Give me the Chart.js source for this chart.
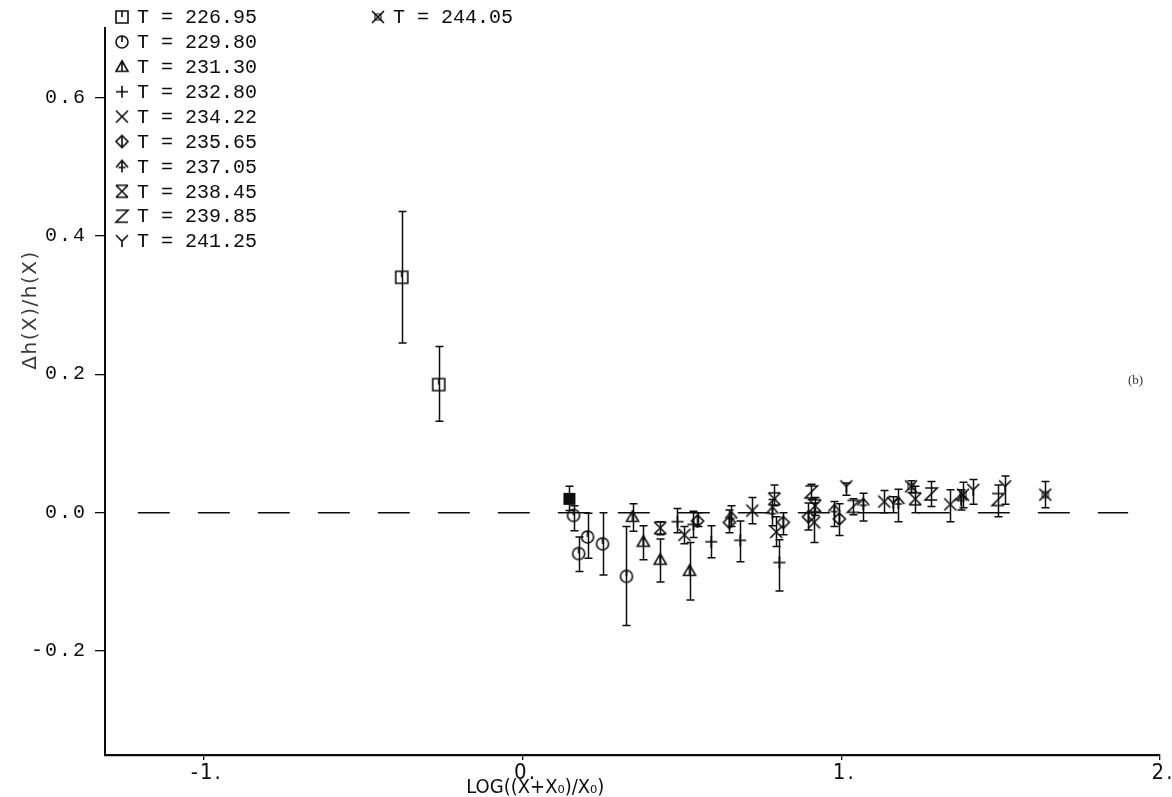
<!DOCTYPE html>
<html>
<head>
<meta charset="utf-8">
<script src="https://cdn.jsdelivr.net/npm/chart.js@4.4.1/dist/chart.umd.min.js"></script>
<style>
  html, body { margin: 0; padding: 0; background: #fff; }
  #wrap { width: 1172px; height: 797px; }
</style>
</head>
<body>
<div id="wrap"><canvas id="c" width="1172" height="797"></canvas></div>
<script>
// Temperatures of the runs and the marker drawn for each
const temperatures = ['226.95', '229.80', '231.30', '232.80', '234.22', '235.65', '237.05', '238.45', '239.85', '241.25', '244.05'];
const markerKinds = ['squareTick', 'circleTick', 'triangleTick', 'plus', 'cross', 'diamondTick', 'arrow', 'crossBars', 'zed', 'wye', 'crossBox'];

// LOG((X+X0)/X0) per run
const xValues = [
  [-0.379, -0.263, 0.147],
  [0.160, 0.176, 0.204, 0.251, 0.326],
  [0.345, 0.379, 0.432, 0.524],
  [0.486, 0.536, 0.592, 0.683, 0.806],
  [0.508, 0.721, 0.796, 0.915, 1.135, 1.342],
  [0.549, 0.649, 0.818, 0.897, 0.994],
  [0.655, 0.784, 0.978, 1.069, 1.179, 1.376],
  [0.432, 0.790, 0.918, 1.232],
  [0.906, 1.038, 1.282, 1.492],
  [1.016, 1.163, 1.414, 1.514],
  [1.219, 1.382, 1.640]
];
// Δh(X)/h(X) per run
const yValues = [
  [0.340, 0.185, 0.020],
  [-0.004, -0.059, -0.035, -0.045, -0.092],
  [-0.006, -0.042, -0.068, -0.084],
  [-0.013, -0.017, -0.042, -0.040, -0.072],
  [-0.032, 0.003, -0.028, -0.014, 0.016, 0.012],
  [-0.012, -0.014, -0.014, -0.006, -0.009],
  [-0.007, 0.000, 0.003, 0.012, 0.014, 0.019],
  [-0.022, 0.020, 0.010, 0.020],
  [0.030, 0.009, 0.027, 0.019],
  [0.038, 0.014, 0.033, 0.038],
  [0.038, 0.026, 0.026]
];
// Lower and upper ends of the error bars
const yLow = [
  [0.245, 0.132, 0.003],
  [-0.026, -0.085, -0.066, -0.090, -0.163],
  [-0.027, -0.068, -0.100, -0.126],
  [-0.029, -0.036, -0.065, -0.071, -0.113],
  [-0.045, -0.016, -0.049, -0.043, 0.000, -0.013],
  [-0.020, -0.029, -0.032, -0.025, -0.033],
  [-0.020, -0.019, -0.020, -0.012, -0.013, 0.004],
  [-0.032, 0.010, -0.004, 0.000],
  [0.019, -0.003, 0.009, -0.006],
  [0.025, 0.000, 0.012, 0.012],
  [0.029, 0.007, 0.007]
];
const yHigh = [
  [0.435, 0.240, 0.038],
  [0.010, -0.035, -0.001, 0.000, -0.020],
  [0.013, -0.019, -0.038, -0.043],
  [0.006, 0.002, -0.019, -0.012, -0.039],
  [-0.020, 0.022, -0.006, 0.014, 0.032, 0.033],
  [0.000, 0.004, 0.000, 0.014, 0.013],
  [0.010, 0.019, 0.016, 0.028, 0.034, 0.033],
  [-0.013, 0.040, 0.022, 0.038],
  [0.041, 0.020, 0.045, 0.040],
  [0.043, 0.023, 0.048, 0.053],
  [0.046, 0.044, 0.045]
];
// Points of the first run plotted solid
const solidPoints = [[false, false, true]];

const referenceLine = [{ x: -1.207, y: 0 }, { x: 1.90, y: 0 }];
const xTickValues = [-1, 0, 1, 2];
const xTickLabels = ['-1.', '0.', '1.', '2.'];
const yTickValues = [-0.2, 0.0, 0.2, 0.4, 0.6];
const yTickLabels = ['-0.2', '0.0', '0.2', '0.4', '0.6'];
const xTitle = 'LOG((X+X\u2080)/X\u2080)';
const yTitle = '\u0394h(X)/h(X)';
const panelTag = '(b)';

const INK = '#0d0d0d';

function makeMarker(kind) {
  const s = 20, c = document.createElement('canvas');
  c.width = s; c.height = s;
  const g = c.getContext('2d');
  g.strokeStyle = INK; g.fillStyle = INK; g.lineWidth = 1.6;
  g.lineCap = 'butt'; g.lineJoin = 'miter';
  const m = s / 2, r = 6;
  g.beginPath();
  switch (kind) {
    case 'squareTick':
      g.rect(m - r, m - r, 2 * r, 2 * r); g.moveTo(m, m - r); g.lineTo(m, m); break;
    case 'squareSolid':
      g.fillRect(m - r, m - r, 2 * r, 2 * r); break;
    case 'circleTick':
      g.arc(m, m, r, 0, Math.PI * 2); g.moveTo(m, m - r); g.lineTo(m, m); break;
    case 'triangleTick':
      g.moveTo(m, m - r); g.lineTo(m + r, m + r * 0.75); g.lineTo(m - r, m + r * 0.75); g.closePath();
      g.moveTo(m, m - r); g.lineTo(m, m + r * 0.75); break;
    case 'plus':
      g.moveTo(m - r, m); g.lineTo(m + r, m); g.moveTo(m, m - r); g.lineTo(m, m + r); break;
    case 'cross':
      g.moveTo(m - r, m - r); g.lineTo(m + r, m + r); g.moveTo(m + r, m - r); g.lineTo(m - r, m + r); break;
    case 'diamondTick':
      g.moveTo(m, m - r); g.lineTo(m + r, m); g.lineTo(m, m + r); g.lineTo(m - r, m); g.closePath();
      g.moveTo(m, m - r); g.lineTo(m, m + r); break;
    case 'arrow':
      g.moveTo(m - r, m + 1); g.lineTo(m, m - r); g.lineTo(m + r, m + 1);
      g.moveTo(m, m - r); g.lineTo(m, m + r); g.moveTo(m - r * 0.6, m + 1); g.lineTo(m + r * 0.6, m + 1); break;
    case 'crossBars':
      g.moveTo(m - r, m - r); g.lineTo(m + r, m + r); g.moveTo(m + r, m - r); g.lineTo(m - r, m + r);
      g.moveTo(m - r, m - r); g.lineTo(m + r, m - r); g.moveTo(m - r, m + r); g.lineTo(m + r, m + r); break;
    case 'zed':
      g.moveTo(m - r, m - r); g.lineTo(m + r, m - r); g.lineTo(m - r, m + r); g.lineTo(m + r, m + r); break;
    case 'wye':
      g.moveTo(m - r, m - r); g.lineTo(m, m); g.lineTo(m + r, m - r); g.moveTo(m, m); g.lineTo(m, m + r); break;
    case 'crossBox':
      g.moveTo(m - r, m - r); g.lineTo(m + r, m + r); g.moveTo(m + r, m - r); g.lineTo(m - r, m + r);
      g.stroke(); g.beginPath(); g.lineWidth = 1.1;
      g.rect(m - 3, m - 3, 6, 6); break;
  }
  g.stroke();
  return c;
}

const markers = markerKinds.map(makeMarker);
const solidMarker = makeMarker('squareSolid');

const datasets = temperatures.map((t, i) => ({
  label: 'T = ' + t,
  type: 'scatter',
  data: xValues[i].map((xv, j) => ({ x: xv, y: yValues[i][j] })),
  errLow: yLow[i],
  errHigh: yHigh[i],
  pointStyle: xValues[i].map((_, j) => (solidPoints[i] && solidPoints[i][j]) ? solidMarker : markers[i]),
  pointRadius: 6,
  showLine: false
}));

datasets.push({
  label: 'zero',
  type: 'line',
  data: referenceLine,
  borderColor: INK,
  borderWidth: 1.5,
  borderDash: [32, 28],
  pointRadius: 0,
  fill: false
});

// spaced lettering for the axis numbers, plain lettering for everything else
const letterSpacing = {
  id: 'letterSpacing',
  beforeDraw(chart) { chart.ctx.letterSpacing = '2px'; },
  beforeDatasetsDraw(chart) { chart.ctx.letterSpacing = '0px'; }
};

// vertical error bars with short caps
const errorBars = {
  id: 'errorBars',
  beforeDatasetsDraw(chart) {
    const { ctx, scales: { x, y } } = chart;
    ctx.save();
    ctx.strokeStyle = INK;
    ctx.lineWidth = 1.5;
    chart.data.datasets.forEach(ds => {
      if (!ds.errLow) return;
      ds.data.forEach((p, j) => {
        const px = Math.round(x.getPixelForValue(p.x)) + 0.5;
        const yl = y.getPixelForValue(ds.errLow[j]);
        const yh = y.getPixelForValue(ds.errHigh[j]);
        ctx.beginPath();
        ctx.moveTo(px, yl); ctx.lineTo(px, yh);
        ctx.moveTo(px - 4, yl); ctx.lineTo(px + 4, yl);
        ctx.moveTo(px - 4, yh); ctx.lineTo(px + 4, yh);
        ctx.stroke();
      });
    });
    ctx.restore();
  }
};

// legend block, axis titles and panel tag
const annotations = {
  id: 'annotations',
  afterDraw(chart) {
    const { ctx } = chart;
    ctx.save();
    ctx.letterSpacing = '0px';
    ctx.fillStyle = INK;
    ctx.font = '20px "Liberation Mono", "DejaVu Sans Mono", monospace';
    ctx.textBaseline = 'middle';
    ctx.textAlign = 'left';
    const rowH = 24.9, top = 17;
    temperatures.forEach((t, i) => {
      const col = i < 10 ? 0 : 1;
      const row = i < 10 ? i : 0;
      const mx = col === 0 ? 122 : 378;
      const my = top + row * rowH;
      ctx.drawImage(markers[i], mx - 10, my - 10);
      ctx.fillText('T = ' + t, mx + 15, my + 1);
    });
    // x title, centred under the origin
    ctx.textAlign = 'center';
    ctx.font = '20px "Liberation Sans Narrow", "DejaVu Sans Condensed", sans-serif';
    ctx.fillText(xTitle, chart.scales.x.getPixelForValue(0.04), 788);
    // y title
    ctx.save();
    ctx.translate(31, 310);
    ctx.rotate(-Math.PI / 2);
    ctx.textAlign = 'center';
    ctx.fillStyle = '#3a3a3a';
    ctx.letterSpacing = '1.5px';
    ctx.font = '20px "DejaVu Sans", sans-serif';
    ctx.fillText(yTitle, 0, 0);
    ctx.restore();
    // panel tag
    ctx.font = '13px "Liberation Serif", serif';
    ctx.textAlign = 'left';
    ctx.fillStyle = '#333';
    ctx.fillText(panelTag, 1128, 381);
    ctx.restore();
  }
};

new Chart(document.getElementById('c'), {
  type: 'scatter',
  data: { datasets },
  options: {
    responsive: false,
    animation: false,
    devicePixelRatio: 1,
    layout: { padding: { top: 28, right: 12, left: 0, bottom: 0 } },
    plugins: { legend: { display: false }, tooltip: { enabled: false }, title: { display: false } },
    scales: {
      x: {
        type: 'linear', min: -1.31, max: 2.0,
        afterBuildTicks: s => { s.ticks = xTickValues.map(v => ({ value: v })); },
        afterFit: s => { s.height = 42; },
        grid: { drawOnChartArea: false, drawTicks: true, tickLength: 5, color: INK, lineWidth: 1.3 },
        border: { display: true, color: INK, width: 2.2 },
        ticks: {
          color: INK, padding: 0, maxRotation: 0, autoSkip: false, labelOffset: 3,
          font: { family: '"Liberation Sans Narrow", "DejaVu Sans Condensed", sans-serif', size: 22 },
          callback: (v, i) => xTickLabels[i]
        }
      },
      y: {
        type: 'linear', min: -0.35, max: 0.70,
        afterBuildTicks: s => { s.ticks = yTickValues.map(v => ({ value: v })); },
        afterFit: s => { s.width = 105; },
        grid: { drawOnChartArea: false, drawTicks: true, tickLength: 10, color: INK, lineWidth: 1.3 },
        border: { display: true, color: INK, width: 2 },
        ticks: {
          color: INK, padding: 8, autoSkip: false,
          font: { family: '"Liberation Mono", "DejaVu Sans Mono", monospace', size: 20 },
          callback: (v, i) => yTickLabels[i]
        }
      }
    }
  },
  plugins: [letterSpacing, errorBars, annotations]
});
</script>
</body>
</html>
